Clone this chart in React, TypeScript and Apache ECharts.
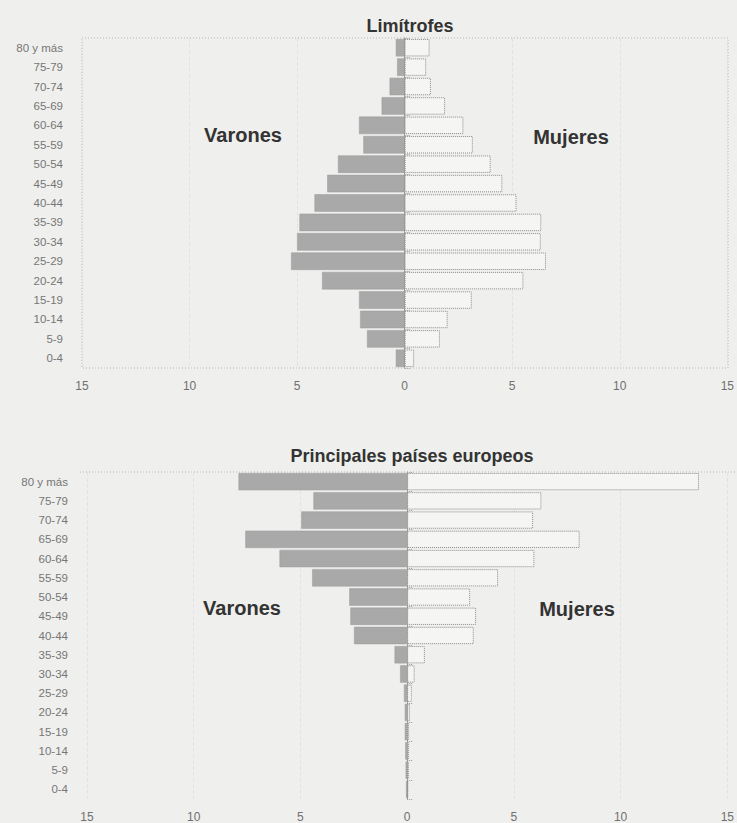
import React, { useEffect, useRef } from "react";
import * as echarts from "echarts";

const ageGroups = [
  "80 y más", "75-79", "70-74", "65-69", "60-64", "55-59", "50-54", "45-49",
  "40-44", "35-39", "30-34", "25-29", "20-24", "15-19", "10-14", "5-9", "0-4",
];

const limitrofesVarones = [0.41, 0.35, 0.7, 1.07, 2.12, 1.92, 3.1, 3.6, 4.19, 4.89, 5.0, 5.28, 3.84, 2.12, 2.07, 1.75, 0.41];
const limitrofesMujeres = [1.16, 1.0, 1.22, 1.88, 2.73, 3.17, 4.0, 4.54, 5.2, 6.35, 6.33, 6.57, 5.52, 3.12, 2.0, 1.64, 0.44];

const europeosVarones = [7.9, 4.39, 4.96, 7.58, 5.98, 4.45, 2.71, 2.66, 2.49, 0.59, 0.33, 0.15, 0.11, 0.11, 0.09, 0.07, 0.05];
const europeosMujeres = [13.67, 6.29, 5.9, 8.08, 5.96, 4.26, 2.95, 3.23, 3.12, 0.83, 0.35, 0.22, 0.13, 0.09, 0.09, 0.08, 0.05];

const titles = ["Limítrofes", "Principales países europeos"];
const xTicks = { min: -15, max: 15, interval: 5 };

const FONT = "'Liberation Sans', Arial, sans-serif";

export default function App() {
  const ref = useRef<HTMLDivElement>(null);

  useEffect(() => {
    if (!ref.current) return;
    const chart = echarts.init(ref.current, null, { renderer: "svg" });

    const grids = [
      { left: 82, right: 9, top: 38, height: 330 },
      { left: 87, right: 9, top: 472, height: 330 },
    ];

    const xAxes = grids.map((_, i) => ({
      type: "value",
      gridIndex: i,
      min: xTicks.min,
      max: xTicks.max,
      interval: xTicks.interval,
      axisLine: { show: false },
      axisTick: { show: false },
      axisLabel: {
        formatter: (v: number) => String(Math.abs(v)),
        color: "#707070",
        fontSize: 12,
        fontFamily: FONT,
        margin: 12,
      },
      splitLine: { show: true, lineStyle: { color: "#e3e3e1", type: "dashed", width: 1 } },
    }));

    const yAxes: any[] = [];
    grids.forEach((_, i) => {
      yAxes.push({
        type: "category",
        gridIndex: i,
        data: ageGroups,
        inverse: true,
        position: "left",
        axisLine: { show: false, onZero: false },
        axisTick: { show: false },
        axisLabel: { color: "#767676", fontSize: 11.5, fontFamily: FONT, margin: 19 },
      });
      yAxes.push({
        type: "category",
        gridIndex: i,
        data: ageGroups,
        inverse: true,
        position: "left",
        axisLine: { show: true, onZero: true, lineStyle: { color: "#9a9a9a", width: 1 } },
        axisTick: { show: true, inside: true, length: 6, lineStyle: { color: "#9a9a9a", type: "dotted" } },
        axisLabel: { show: false },
      });
    });

    const datasets = [
      [limitrofesVarones, limitrofesMujeres],
      [europeosVarones, europeosMujeres],
    ];

    const series: any[] = [];
    datasets.forEach(([v, m], i) => {
      series.push({
        type: "bar",
        name: "Varones",
        xAxisIndex: i,
        yAxisIndex: i * 2,
        stack: "p" + i,
        data: v.map((x) => -x),
        barCategoryGap: "10%",
        itemStyle: { color: "#a9a9a9", borderColor: "#9a9a9a", borderWidth: 0.5 },
      });
      series.push({
        type: "bar",
        name: "Mujeres",
        xAxisIndex: i,
        yAxisIndex: i * 2,
        stack: "p" + i,
        data: m,
        barCategoryGap: "10%",
        itemStyle: { color: "#f5f5f4", borderColor: "#8c8c8c", borderWidth: 1, borderType: "dotted" },
      });
    });

    const labelStyle = { fill: "#333", fontSize: 20, fontWeight: "bold", fontFamily: FONT };
    const titleStyle = { fontSize: 18, fontWeight: "bold", color: "#333", fontFamily: FONT };

    chart.setOption({
      animation: false,
      backgroundColor: "#efefed",
      title: [
        { text: titles[0], left: 405, top: 12, textAlign: "center", textStyle: titleStyle },
        { text: titles[1], left: 407, top: 442, textAlign: "center", textStyle: titleStyle },
      ],
      grid: grids,
      xAxis: xAxes,
      yAxis: yAxes,
      series,
      graphic: [
        { type: "rect", shape: { x: 82, y: 38, width: 646, height: 330 }, style: { fill: "none", stroke: "#b5b5b5", lineWidth: 1, lineDash: [1, 2] }, silent: true },
        { type: "line", shape: { x1: 80, y1: 472, x2: 737, y2: 472 }, style: { stroke: "#b5b5b5", lineWidth: 1, lineDash: [1, 2] }, silent: true },
        { type: "text", x: 243, y: 135, style: { text: "Varones", align: "center", verticalAlign: "middle", ...labelStyle } },
        { type: "text", x: 571, y: 137, style: { text: "Mujeres", align: "center", verticalAlign: "middle", ...labelStyle } },
        { type: "text", x: 242, y: 608, style: { text: "Varones", align: "center", verticalAlign: "middle", ...labelStyle } },
        { type: "text", x: 577, y: 609, style: { text: "Mujeres", align: "center", verticalAlign: "middle", ...labelStyle } },
      ],
    });

    return () => chart.dispose();
  }, []);

  return (
    <div
      ref={ref}
      style={{ position: "absolute", left: 0, top: 0, width: 737, height: 823 }}
    />
  );
}
